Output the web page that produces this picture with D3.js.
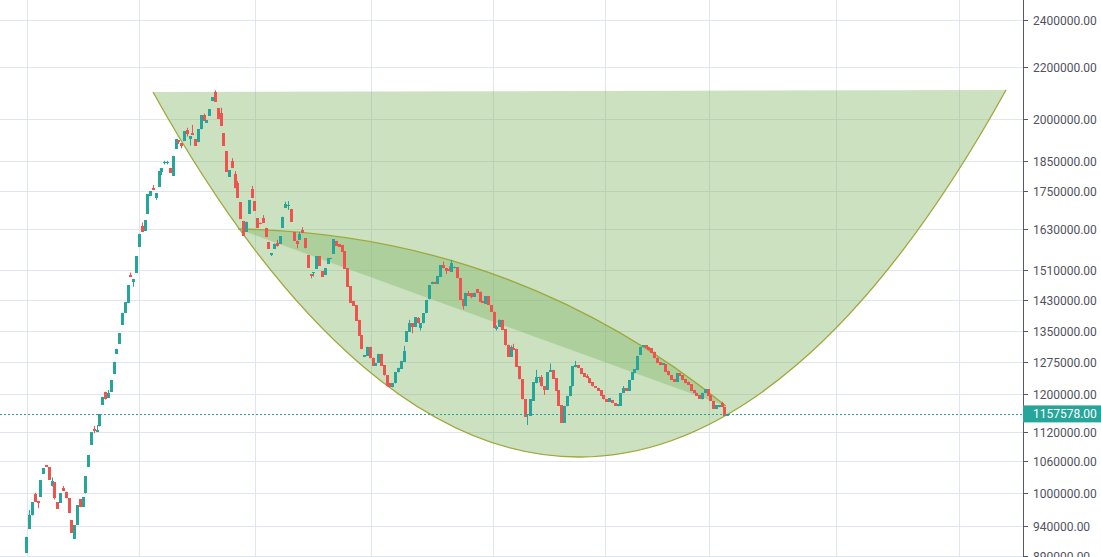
<!DOCTYPE html>
<html><head><meta charset="utf-8">
<script src="https://cdn.jsdelivr.net/npm/d3@7"></script>
<style>html,body{margin:0;padding:0;background:#fff;overflow:hidden}</style>
</head><body><svg id="c" width="1101" height="557"></svg>
<script>
// ---- data ----
const opens = [895000,936000,959000,998000,985000,993000,1036000,1053000,1049000,1012000,
1020000,983000,982000,1009000,1002000,990000,951000,918000,943000,988000,
975000,999000,1050000,1093000,1126000,1119000,1131000,1177000,1206000,1193000,
1206000,1246000,1294000,1318000,1365000,1396000,1422000,1498000,1479000,1504000,
1577000,1640000,1625000,1677000,1734000,1758000,1728000,1764000,1811000,1842000,
1841000,1825000,1800000,1892000,1922000,1912000,1920000,1959000,1925000,1948000,
1926000,1915000,1961000,2014000,1985000,2011000,2068000,2103000,2039000,2021000,
1948000,1884000,1796000,1849000,1805000,1776000,1714000,1655000,1622000,1677000,
1756000,1717000,1663000,1650000,1665000,1634000,1592000,1554000,1572000,1590000,
1587000,1634000,1696000,1702000,1692000,1621000,1596000,1599000,1628000,1603000,
1554000,1499000,1502000,1515000,1551000,1508000,1498000,1529000,1543000,1558000,
1595000,1585000,1583000,1565000,1516000,1467000,1427000,1416000,1378000,1340000,
1286000,1289000,1311000,1285000,1266000,1273000,1294000,1267000,1244000,1225000,
1216000,1225000,1250000,1258000,1275000,1323000,1348000,1369000,1361000,1382000,
1358000,1369000,1395000,1431000,1472000,1479000,1472000,1493000,1525000,1516000,
1513000,1507000,1516000,1519000,1488000,1431000,1415000,1449000,1447000,1438000,
1459000,1452000,1427000,1419000,1440000,1416000,1399000,1355000,1361000,1378000,
1354000,1316000,1287000,1309000,1306000,1265000,1235000,1190000,1155000,1154000,
1186000,1225000,1237000,1240000,1219000,1210000,1251000,1256000,1237000,1210000,
1176000,1139000,1174000,1196000,1218000,1262000,1267000,1260000,1249000,1241000,
1237000,1227000,1219000,1215000,1210000,1198000,1190000,1184000,1188000,1181000,
1174000,1175000,1203000,1214000,1208000,1233000,1248000,1256000,1291000,1310000,
1315000,1311000,1307000,1299000,1285000,1274000,1268000,1269000,1254000,1243000,
1234000,1229000,1248000,1243000,1234000,1229000,1223000,1210000,1204000,1198000,
1189000,1203000,1212000,1199000,1186000,1168000,1172000,1182000,1173000,1153000];

const closes = [922000,960000,983000,984000,981000,1024000,1047000,1049000,1025000,1022000,
991000,971000,999000,1004000,990000,963000,929000,942000,977000,974000,
992000,1032000,1073000,1119000,1122000,1124000,1157000,1195000,1189000,1204000,
1233000,1275000,1306000,1345000,1396000,1424000,1470000,1492000,1486000,1551000,
1616000,1622000,1658000,1740000,1750000,1753000,1742000,1815000,1825000,1846000,
1846000,1810000,1867000,1925000,1917000,1903000,1955000,1943000,1936000,1942000,
1903000,1962000,2014000,1992000,1995000,2036000,2081000,2064000,2000000,1974000,
1903000,1813000,1818000,1827000,1758000,1728000,1662000,1610000,1653000,1720000,
1728000,1686000,1633000,1645000,1649000,1607000,1572000,1559000,1587000,1581000,
1609000,1668000,1708000,1704000,1653000,1596000,1585000,1615000,1618000,1573000,
1518000,1495000,1505000,1551000,1523000,1493000,1516000,1544000,1546000,1600000,
1581000,1577000,1563000,1515000,1465000,1422000,1415000,1376000,1338000,1305000,
1290000,1311000,1283000,1266000,1271000,1294000,1265000,1243000,1218000,1216000,
1225000,1251000,1261000,1277000,1301000,1349000,1369000,1361000,1384000,1369000,
1370000,1395000,1430000,1470000,1479000,1473000,1495000,1525000,1516000,1509000,
1508000,1530000,1521000,1488000,1430000,1415000,1449000,1441000,1438000,1449000,
1449000,1425000,1422000,1440000,1416000,1399000,1357000,1361000,1378000,1352000,
1314000,1287000,1311000,1303000,1263000,1234000,1189000,1152000,1157000,1189000,
1227000,1240000,1240000,1218000,1210000,1251000,1256000,1235000,1208000,1175000,
1139000,1175000,1197000,1219000,1265000,1267000,1260000,1246000,1240000,1237000,
1225000,1218000,1215000,1208000,1197000,1189000,1184000,1192000,1181000,1175000,
1179000,1203000,1214000,1208000,1233000,1250000,1257000,1289000,1311000,1314000,
1307000,1303000,1297000,1283000,1273000,1267000,1271000,1252000,1243000,1233000,
1229000,1248000,1242000,1233000,1225000,1221000,1208000,1203000,1197000,1190000,
1204000,1212000,1197000,1186000,1168000,1177000,1177000,1172000,1153000,1157578];

// visible wick extremes: [candle index, price]
const wickHighs = [[1,969000],[3,1000000],[9,1029000],[13,1013000],[24,1132000],[25,1134000],
[29,1210000],[37,1504000],[41,1650000],[45,1769000],[49,1850000],[50,1850000],[57,1967000],
[59,1977000],[63,2019000],[67,2108000],[69,2041000],[73,1859000],[74,1815000],[75,1782000],
[80,1766000],[84,1673000],[89,1598000],[92,1715000],[93,1717000],[97,1622000],[98,1636000],
[134,1313000],[136,1378000],[139,1385000],[148,1535000],[150,1521000],[151,1540000],
[157,1454000],[167,1364000],[168,1379000],[172,1314000],[173,1318000],[181,1256000],
[183,1244000],[186,1271000],[195,1277000],[199,1246000],[212,1219000],[247,1184000]];
const wickLows = [[4,972000],[10,988000],[24,1117000],[38,1465000],[46,1721000],[48,1802000],
[49,1838000],[50,1838000],[54,1908000],[55,1893000],[57,1935000],[58,1903000],[87,1551000],
[89,1578000],[93,1689000],[96,1573000],[101,1488000],[102,1493000],[137,1344000],
[140,1351000],[149,1500000],[155,1405000],[158,1434000],[167,1351000],[178,1134000],
[182,1227000],[184,1199000]];

const priceTicks = [2400000,2200000,2000000,1850000,1750000,1630000,1510000,1430000,
1350000,1275000,1200000,1120000,1060000,1000000,940000,890000];
const timeGridIdx = [0.25,40,81.2,122.4,165.8,205.6,242.5,287.6,331.3];
const lastPrice = 1157578;

// drawing anchors (candle index, price)
const bigArc = [[45.0,2101600],[141.3,852600],[251.7,852600],[348.0,2109400]];
const smallArc = [[75.2,1630500],[173.2,1615500],[248.5,1174800]];

// ---- chart ----
const W = 1101, H = 557, plotR = 1023;
const svg = d3.select('#c');
const x = d3.scaleLinear().domain([0, 249]).range([26.3, 727.3]);
const y = d3.scaleLog().domain([1000000, 2400000]).range([492.9, 20.3]);

svg.append('defs').append('clipPath').attr('id','plot')
  .append('rect').attr('x',0).attr('y',0).attr('width',plotR).attr('height',H);
const plot = svg.append('g').attr('clip-path','url(#plot)');

const gridCol = '#e1e6ee';
plot.selectAll('.hg').data(priceTicks).enter().append('line')
  .attr('x1',0).attr('x2',plotR)
  .attr('y1',d=>Math.round(y(d))+0.5).attr('y2',d=>Math.round(y(d))+0.5)
  .attr('stroke',gridCol).attr('stroke-width',1);
plot.selectAll('.vg').data(timeGridIdx).enter().append('line')
  .attr('y1',0).attr('y2',H)
  .attr('x1',d=>Math.round(x(d))+0.5).attr('x2',d=>Math.round(x(d))+0.5)
  .attr('stroke',gridCol).attr('stroke-width',1);

const fillCol = 'rgba(132,184,106,0.42)';
const lineCol = '#9ea83c';
const pt = p => [x(p[0]), y(p[1])];
{
  const [a,b,c,d] = bigArc.map(pt);
  const curve = `M${a[0]},${a[1]} C${b[0]},${b[1]} ${c[0]},${c[1]} ${d[0]},${d[1]}`;
  plot.append('path').attr('d', curve + ' Z').attr('fill', fillCol).attr('stroke','none');
  plot.append('path').attr('d', curve).attr('fill','none').attr('stroke',lineCol).attr('stroke-width',1.3);
}
{
  const [a,b,c] = smallArc.map(pt);
  const curve = `M${a[0]},${a[1]} Q${b[0]},${b[1]} ${c[0]},${c[1]}`;
  plot.append('path').attr('d', curve + ' Z').attr('fill', fillCol).attr('stroke','none');
  plot.append('path').attr('d', curve).attr('fill','none').attr('stroke',lineCol).attr('stroke-width',1.3);
}

// candles
const up = '#26a69a', dn = '#ef5350';
const hiMap = new Map(wickHighs), loMap = new Map(wickLows);
const candles = opens.map((o,i)=>{
  const c = closes[i];
  return {i, o, c,
    h: hiMap.has(i) ? hiMap.get(i) : Math.max(o,c),
    l: loMap.has(i) ? loMap.get(i) : Math.min(o,c)};
});
const cg = plot.append('g');
candles.forEach(d=>{
  const col = d.c >= d.o ? up : dn;
  const cx = Math.round(x(d.i));
  const yh = y(d.h), yl = y(d.l);
  if (yl - yh > 0.5) {
    cg.append('line').attr('x1',cx+0.5).attr('x2',cx+0.5).attr('y1',yh).attr('y2',yl)
      .attr('stroke',col).attr('stroke-width',1);
  }
  const yt = Math.min(y(d.o), y(d.c)), yb = Math.max(y(d.o), y(d.c));
  cg.append('rect').attr('x',cx-1).attr('width',3)
    .attr('y',yt).attr('height',Math.max(1, yb-yt))
    .attr('fill',col).attr('shape-rendering','crispEdges');
});

// last price line
const yl = y(lastPrice);
svg.append('line').attr('x1',0).attr('x2',plotR).attr('y1',Math.round(yl)+0.5).attr('y2',Math.round(yl)+0.5)
  .attr('stroke',up).attr('stroke-width',1).attr('stroke-dasharray','2,2');

// right axis
const ax = svg.append('g');
ax.append('line').attr('x1',plotR+0.5).attr('x2',plotR+0.5).attr('y1',0).attr('y2',H)
  .attr('stroke','#555a66').attr('stroke-width',1);
priceTicks.forEach(p=>{
  const yy = Math.round(y(p))+0.5;
  ax.append('line').attr('x1',plotR).attr('x2',plotR+5).attr('y1',yy).attr('y2',yy)
    .attr('stroke','#555a66').attr('stroke-width',1);
  ax.append('text').attr('x',plotR+10).attr('y',yy).attr('dy','0.35em')
    .attr('font-family','Roboto, sans-serif').attr('font-size',12).attr('fill','#50535e')
    .text(d3.format('.2f')(p));
});
ax.append('rect').attr('x',plotR).attr('y',yl-8.5).attr('width',W-plotR).attr('height',17).attr('fill',up);
ax.append('text').attr('x',plotR+10).attr('y',yl).attr('dy','0.35em')
  .attr('font-family','Roboto, sans-serif').attr('font-size',12).attr('fill','#ffffff')
  .text(d3.format('.2f')(lastPrice));
</script></body></html>
